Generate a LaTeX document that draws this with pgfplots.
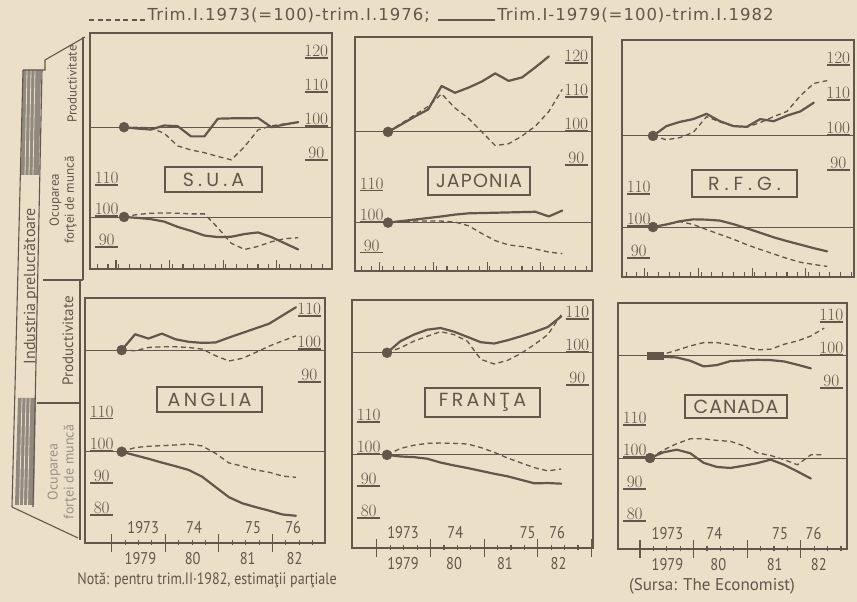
\documentclass[border=0pt]{standalone}
\usepackage{pgfplots}
\pgfplotsset{compat=1.18}
\usepackage{fontspec}
\setmainfont{PT Sans}
\newfontfamily\hand{PT Sans}[FakeStretch=0.85]
\newfontfamily\handb{PT Sans}[FakeStretch=0.85, FakeBold=1.6]
\newfontfamily\plain{PT Sans}
\newfontfamily\wide{DejaVu Sans}[LetterSpace=6]
\newfontfamily\geo{Poppins}
\definecolor{paper}{RGB}{235,223,199}
\definecolor{ink}{RGB}{98,87,74}
\newcommand\ulab[1]{\vbox{\hbox to 23pt{\hss#1\hss}\kern0.8pt\hrule height 1.5pt}}
\pgfplotsset{
  pan/.style={scale only axis, anchor=north west, tick style={draw=none},
    major tick length=0pt, minor tick length=0pt, axis line style={draw=none},
    xtick=\empty},
  up/.style={pan, yticklabel pos=right,
    yticklabel style={anchor=south east, inner sep=0pt, xshift=-4pt, text=ink,
      font=\handb\fontsize{16}{17}\selectfont},
    yticklabel={\ulab{\pgfmathprintnumber{\tick}}}},
  lo/.style={pan, yticklabel pos=left,
    yticklabel style={anchor=south west, inner sep=0pt, xshift=5pt, text=ink,
      font=\handb\fontsize{16}{17}\selectfont},
    yticklabel={\ulab{\pgfmathprintnumber{\tick}}}},
  fr/.style={scale only axis, anchor=north west, ymin=0, ymax=1, ytick=\empty,
    xticklabels={}, axis line style={ink, line width=2.5pt},
    tick style={ink, line width=1.1pt}, xtick pos=left},
  frtop/.style={fr, tick align=inside, major tick length=9pt, minor tick length=5pt,
    xtick={-0.6,3.4,7.4,11.4}, minor xtick={-2,-1.2,...,15.2}},
  frbot/.style={fr, tick align=center, major tick length=18pt, minor tick length=5pt,
    xtick={-0.75,3.25,7.25,11.25,15.25}, minor xtick={-0.75,0.25,...,15.25}},
  toplab/.style={xticklabel style={anchor=south, yshift=9pt, inner sep=0pt, text=ink,
      font=\hand\fontsize{17}{18}\selectfont}, xticklabels={1973,74,75,76}},
  botlab/.style={xticklabel style={anchor=north, yshift=-9pt, inner sep=0pt, text=ink,
      font=\hand\fontsize{17}{18}\selectfont}, xticklabels={1979,80,81,82}},
  sl/.style={ink, line width=2.2pt, line join=round, line cap=round, mark=none},
  ds/.style={ink, line width=1.3pt, dash pattern=on 5pt off 3.5pt, mark=none},
  bl/.style={ink, line width=0.9pt, mark=none},
  dt/.style={ink, only marks, mark=*, mark size=5pt},
}
\begin{document}
\begin{tikzpicture}[x=1pt,y=1pt]
\path[use as bounding box, fill=paper] (0,0) rectangle (857,602);

% ================= S.U.A =================
\begin{axis}[up, at={(90pt,569pt)}, width=242pt, height=236pt,
  xmin=-2.54, xmax=15.52, ymin=58.3, ymax=127.7, ytick={90,100,110,120},
  legend style={at={(1.413,1.076)}, anchor=center, draw=none, fill=none,
    font=\wide\fontsize{16.5}{18}\selectfont, text=ink, legend columns=2,
    /tikz/every even column/.append style={column sep=6pt}},
  legend cell align=left,
  legend image code/.code={\draw[#1, line width=1.4pt] (0pt,-5pt) -- (56pt,-5pt);}]
\addplot[bl, forget plot] coordinates {(-5,100) (20,100)};
\addplot[ds] coordinates {(0,100)(1,100)(2,99.8)(3,98.2)(4,94.5)(5,93.3)(6,92.5)(7,91.4)(8,90.4)(9,94.3)(10,99.2)(11,100.4)(12,101)(13,101.4)};
\addlegendentry{Trim.I.1973(=100)-trim.I.1976;}
\addplot[sl] coordinates {(0,100)(1,99.6)(2,99.3)(3,100.5)(4,100.3)(5,97.3)(6,97.3)(7,102.5)(8,102.6)(9,102.6)(10,102.7)(11,100)(12,100.8)(13,101.5)};
\addlegendentry{Trim.I-1979(=100)-trim.I.1982}
\addplot[dt, forget plot] coordinates {(0,100)};
\end{axis}
\begin{axis}[lo, at={(90pt,569pt)}, width=242pt, height=236pt,
  xmin=-2.54, xmax=15.52, ymin=83.2, ymax=159.4, ytick={90,100,110}]
\addplot[bl] coordinates {(-5,100) (20,100)};
\addplot[ds] coordinates {(0,100)(1,100.8)(2,101.2)(3,101.3)(4,101.2)(5,101)(6,101)(7,96.5)(8,91.5)(9,89.5)(10,90.5)(11,92)(12,93)(13,93.3)};
\addplot[sl] coordinates {(0,100)(1,99.7)(2,99.3)(3,98.5)(4,96.8)(5,95.5)(6,94)(7,93.5)(8,93.6)(9,94.5)(10,95)(11,93.5)(12,91.5)(13,89.5)};
\addplot[dt] coordinates {(0,100)};
\end{axis}
\begin{axis}[frtop, at={(90pt,569pt)}, width=242pt, height=236pt, xmin=-2.54, xmax=15.52]
\end{axis}

% ================= JAPONIA =================
\begin{axis}[up, at={(355pt,565pt)}, width=237pt, height=234pt,
  xmin=-2.46, xmax=15.22, ymin=59.1, ymax=127.9, ytick={90,100,110,120}]
\addplot[bl] coordinates {(-5,100) (20,100)};
\addplot[ds] coordinates {(0,100)(1,102.5)(2,105)(3,107.5)(4,111.2)(5,107)(6,104)(7,100)(8,96)(9,96.5)(10,98.8)(11,101.7)(12,106)(13,112.5)};
\addplot[sl] coordinates {(0,100)(1,102.2)(2,104.5)(3,106.6)(4,113.5)(5,111.5)(6,113)(7,114.8)(8,117.2)(9,115)(10,116)(11,119)(12,122.2)};
\addplot[dt] coordinates {(0,100)};
\end{axis}
\begin{axis}[lo, at={(355pt,565pt)}, width=237pt, height=234pt,
  xmin=-2.46, xmax=15.22, ymin=84.4, ymax=159.9, ytick={90,100,110}]
\addplot[bl] coordinates {(-5,100) (20,100)};
\addplot[ds] coordinates {(0,100)(1,100.3)(2,100.5)(3,100.5)(4,100.5)(5,100.2)(6,99)(7,96.5)(8,94.2)(9,92.8)(10,92.3)(11,91.5)(12,90.5)(13,90)};
\addplot[sl] coordinates {(0,100)(1,100.5)(2,101)(3,101.5)(4,102)(5,102.6)(6,103)(7,103.1)(8,103.2)(9,103.3)(10,103.4)(11,103.5)(12,102)(13,103.9)};
\addplot[dt] coordinates {(0,100)};
\end{axis}
\begin{axis}[frtop, at={(355pt,565pt)}, width=237pt, height=234pt, xmin=-2.46, xmax=15.22]
\end{axis}

% ================= R.F.G. =================
\begin{axis}[up, at={(622pt,562pt)}, width=232pt, height=237pt,
  xmin=-2.31, xmax=15.0, ymin=59.7, ymax=127.4, ytick={90,100,110,120}]
\addplot[bl] coordinates {(-5,100) (20,100)};
\addplot[ds] coordinates {(0,100)(1,98.9)(2,99.5)(3,101)(4,105.5)(5,104)(6,102.8)(7,102.5)(8,103.8)(9,105.5)(10,107)(11,111.5)(12,115)(13,115.8)};
\addplot[sl] coordinates {(0,100)(1,102.8)(2,104)(3,104.8)(4,106.3)(5,104.2)(6,102.8)(7,102.6)(8,104.8)(9,104.2)(10,105.8)(11,107)(12,109.5)};
\addplot[dt] coordinates {(0,100)};
\end{axis}
\begin{axis}[lo, at={(622pt,562pt)}, width=232pt, height=237pt,
  xmin=-2.31, xmax=15.0, ymin=84.4, ymax=158.4, ytick={90,100,110}]
\addplot[bl] coordinates {(-5,100) (20,100)};
\addplot[ds] coordinates {(0,100)(1,100.8)(2,101.7)(3,100.8)(4,99.2)(5,97.7)(6,96.2)(7,94.5)(8,93)(9,91.6)(10,90.2)(11,89)(12,88.3)(13,87.7)};
\addplot[sl] coordinates {(0,100)(1,100.8)(2,101.8)(3,102.4)(4,102.3)(5,102)(6,100.9)(7,99.6)(8,98.2)(9,96.8)(10,95.6)(11,94.5)(12,93.4)(13,92.4)};
\addplot[dt] coordinates {(0,100)};
\end{axis}
\begin{axis}[frtop, at={(622pt,562pt)}, width=232pt, height=237pt, xmin=-2.31, xmax=15.0]
\end{axis}

% ================= ANGLIA =================
\begin{axis}[up, toplab, at={(85pt,304pt)}, width=240pt, height=245pt,
  xmin=-2.74, xmax=15.17, ymin=41.5, ymax=115.8, ytick={90,100,110},
  xtick={1.6,5.4,9.8,12.8}]
\addplot[bl] coordinates {(-5,100) (20,100)};
\addplot[ds] coordinates {(0,100)(1,99.8)(2,100.8)(3,101)(4,101)(5,100.8)(6,100.3)(7,98.3)(8,96.7)(9,97.5)(10,99.3)(11,101.2)(12,102.8)(13,104.3)};
\addplot[sl] coordinates {(0,100)(1,104.8)(2,103.5)(3,105)(4,103.3)(5,102.5)(6,102.2)(7,102.3)(8,103.8)(9,105.2)(10,106.6)(11,108)(12,110.5)(13,113)};
\addplot[dt] coordinates {(0,100)};
\end{axis}
\begin{axis}[lo, botlab, at={(85pt,304pt)}, width=240pt, height=245pt,
  xmin=-2.74, xmax=15.17, ymin=71.5, ymax=148, ytick={80,90,100,110},
  xtick={1.4,5.3,9.4,12.9}]
\addplot[bl] coordinates {(-5,100) (20,100)};
\addplot[ds] coordinates {(0,100)(1,101.3)(2,101.7)(3,101.9)(4,102.1)(5,102.4)(6,101.8)(7,99.5)(8,96.5)(9,95.5)(10,94.3)(11,93.6)(12,92.4)(13,92)};
\addplot[sl] coordinates {(0,100)(1,98.9)(2,97.8)(3,96.6)(4,95.5)(5,94.3)(6,92.2)(7,89)(8,85.8)(9,83.9)(10,82.7)(11,81.6)(12,80.4)(13,80)};
\addplot[dt] coordinates {(0,100)};
\end{axis}
\begin{axis}[frbot, at={(85pt,304pt)}, width=240pt, height=245pt, xmin=-2.74, xmax=15.17]
\end{axis}

% ================= FRANTA =================
\begin{axis}[up, toplab, at={(352pt,302pt)}, width=241pt, height=248pt,
  xmin=-2.61, xmax=15.37, ymin=40.8, ymax=116, ytick={90,100,110},
  xtick={1.2,5.1,10.5,12.7}]
\addplot[bl] coordinates {(-5,100) (20,100)};
\addplot[ds] coordinates {(0,100)(1,101.5)(2,103.5)(3,105)(4,106.4)(5,105.5)(6,103.5)(7,98)(8,96.6)(9,97.7)(10,99.8)(11,102.5)(12,105.5)(13,111.5)};
\addplot[sl] coordinates {(0,100)(1,103.5)(2,105.5)(3,107)(4,107.5)(5,106.4)(6,104.8)(7,103.2)(8,102.8)(9,103.8)(10,105)(11,106.3)(12,107.8)(13,111)};
\addplot[dt] coordinates {(0,100)};
\end{axis}
\begin{axis}[lo, botlab, at={(352pt,302pt)}, width=241pt, height=248pt,
  xmin=-2.61, xmax=15.37, ymin=70.9, ymax=148.4, ytick={80,90,100,110},
  xtick={1.2,5.0,8.8,12.8}]
\addplot[bl] coordinates {(-5,100) (20,100)};
\addplot[ds] coordinates {(0,100)(1,102)(2,103)(3,103.6)(4,103.7)(5,103.6)(6,103.4)(7,102.3)(8,100.8)(9,99)(10,97.5)(11,96)(12,95)(13,95.6)};
\addplot[sl] coordinates {(0,100)(1,99.5)(2,99.3)(3,98.8)(4,97.6)(5,96.7)(6,95.9)(7,95)(8,94.1)(9,93.3)(10,92.2)(11,91.1)(12,91.2)(13,91)};
\addplot[dt] coordinates {(0,100)};
\end{axis}
\begin{axis}[frbot, at={(352pt,302pt)}, width=241pt, height=248pt, xmin=-2.61, xmax=15.37]
\end{axis}

% ================= CANADA =================
\begin{axis}[up, toplab, at={(618pt,299pt)}, width=229pt, height=246pt,
  xmin=-2.39, xmax=14.7, ymin=41.5, ymax=116, ytick={90,100,110},
  xtick={1.3,4.8,9.7,12.2}]
\addplot[bl] coordinates {(-5,100) (20,100)};
\addplot[ds] coordinates {(0,100)(1,100.5)(2,101.7)(3,103)(4,104)(5,104)(6,103.4)(7,102.8)(8,101.8)(9,102)(10,103.5)(11,104.5)(12,106)(13,108.4)};
\addplot[sl] coordinates {(0,100)(1,99.7)(2,99.5)(3,98.5)(4,96.8)(5,97.2)(6,98.4)(7,98.6)(8,98.8)(9,98.7)(10,98.3)(11,97.3)(12,96.2)};
\addplot[ink, only marks, mark=square*, mark size=3.5pt, mark options={xscale=2.2}] coordinates {(0.4,100)};
\end{axis}
\begin{axis}[lo, botlab, at={(618pt,299pt)}, width=229pt, height=246pt,
  xmin=-2.39, xmax=14.7, ymin=71.6, ymax=148.4, ytick={80,90,100,110},
  xtick={1.3,5.1,9.3,12.6}]
\addplot[bl] coordinates {(-5,100) (20,100)};
\addplot[ds] coordinates {(0,100)(1,102.5)(2,104.5)(3,106)(4,106)(5,105.5)(6,105.2)(7,103.8)(8,101.6)(9,100.8)(10,99.5)(11,97.9)(12,101)(13,101)};
\addplot[sl] coordinates {(0,100)(1,101.8)(2,102.6)(3,101.5)(4,98.5)(5,97.2)(6,96.9)(7,97.6)(8,98.4)(9,99.5)(10,97.9)(11,95.8)(12,93.6)};
\addplot[dt] coordinates {(0,100)};
\end{axis}
\begin{axis}[frbot, at={(618pt,299pt)}, width=229pt, height=246pt, xmin=-2.39, xmax=14.7]
\end{axis}

% ---------- country boxes ----------
\tikzset{cbox/.style={draw=ink, line width=1.9pt, text=ink, inner sep=0pt,
  font=\geo\fontsize{19}{20}\selectfont}}
\node[cbox, minimum width=97pt, minimum height=25pt] at (213.5,422.5) {\addfontfeatures{LetterSpace=22}S.U.A};
\node[cbox, minimum width=102pt, minimum height=28pt] at (479,421) {\addfontfeatures{LetterSpace=6}JAPONIA};
\node[cbox, minimum width=105pt, minimum height=27pt] at (744.5,418.5) {\addfontfeatures{LetterSpace=26}R.F.G.};
\node[cbox, minimum width=105pt, minimum height=25pt] at (209.5,202.5) {\addfontfeatures{LetterSpace=18}ANGLIA};
\node[cbox, minimum width=115pt, minimum height=29pt] at (482.5,199.5) {\addfontfeatures{LetterSpace=18}FRANŢA};
\node[cbox, minimum width=102pt, minimum height=23pt] at (736,195.5) {\addfontfeatures{LetterSpace=5}CANADA};

% ---------- left side labels ----------
\fill[ink!70] (23,532) -- (41,532) -- (39,427) -- (21,427) -- cycle;
\fill[ink!70] (18,204) -- (36,204) -- (34,97) -- (15,97) -- cycle;
\foreach \d in {4,8,12} {
  \draw[paper, line width=0.8pt] (23+\d,532) -- (21+\d,427);
  \draw[paper, line width=0.8pt] (18+\d,204) -- (15.5+\d,97);
}
\draw[ink, line width=1.1pt] (23,532) -- (12,95);
\draw[ink, line width=1.1pt] (42,532) -- (33,95);
\draw[ink, line width=1.1pt] (23,532) -- (45,532) -- (45,542) -- (85,565);
\draw[ink, line width=1.1pt] (83,565) -- (83,322) (43,322) -- (83,322);
\draw[ink, line width=1.1pt] (80,322) -- (80,62);
\draw[ink, line width=1.1pt] (37,199) -- (80,199);
\draw[ink, line width=1.1pt] (12,95) -- (78,64);
\node[rotate=90, text=ink, font=\plain\fontsize{16}{18}\selectfont] at (31,316) {Industria prelucrătoare};
\node[rotate=90, text=ink, font=\plain\fontsize{13}{15}\selectfont] at (72,518) {Productivitate};
\node[rotate=90, text=ink, align=center, font=\plain\fontsize{13}{15}\selectfont] at (63,402) {Ocuparea\\forţei de muncă};
\node[rotate=90, text=ink, font=\plain\fontsize{15}{17}\selectfont] at (68,261) {Productivitate};
\node[rotate=90, text=ink!65, align=center, font=\plain\fontsize{14}{16}\selectfont] at (62,130) {Ocuparea\\forţei de muncă};

% ---------- notes ----------
\node[text=ink, font=\hand\fontsize{16.5}{18}\selectfont] at (207,22) {Notă: pentru trim.II·1982, estimaţii parţiale};
\node[text=ink, font=\plain\fontsize{17}{19}\selectfont] at (712,16) {(Sursa: The Economist)};
\end{tikzpicture}
\end{document}
